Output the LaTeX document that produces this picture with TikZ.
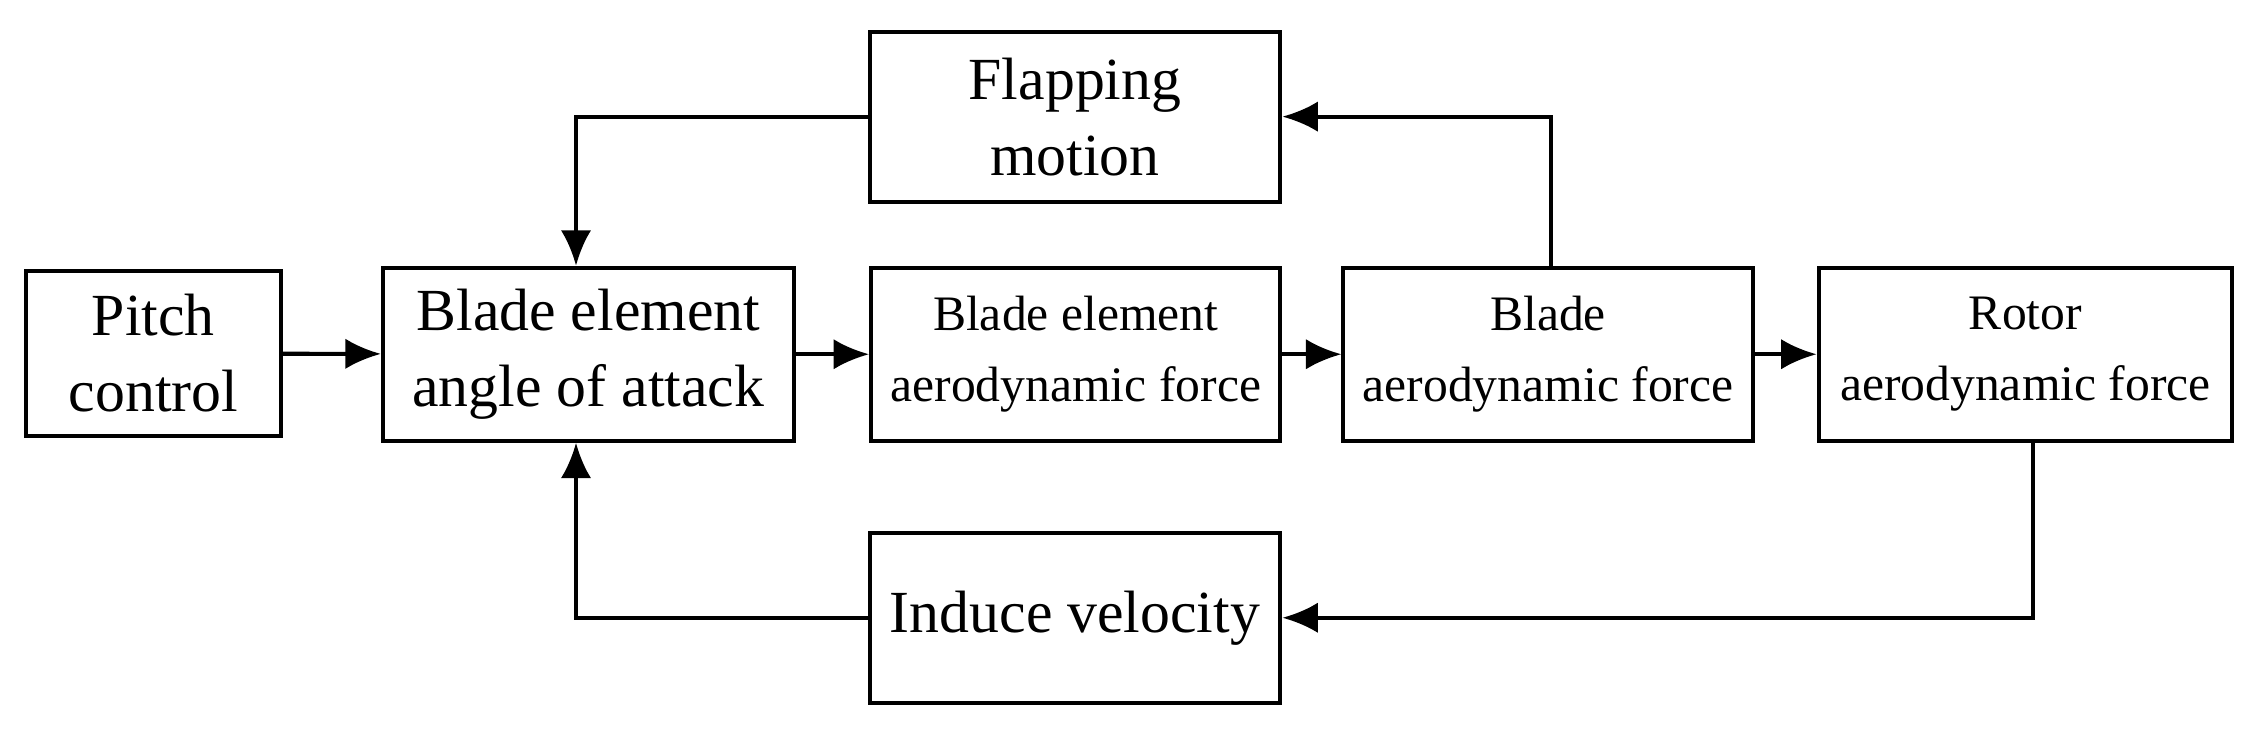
\documentclass[tikz,border=0pt]{standalone}
\usepackage{fontspec}
\setmainfont{Liberation Serif}
\usetikzlibrary{arrows.meta}
\begin{document}
\begin{tikzpicture}[x=0.01cm,y=-0.01cm,
  box/.style={draw,line width=0.8pt,inner sep=0pt,align=center},
  big/.style={font=\fontsize{11.8}{15}\selectfont},
  small/.style={font=\fontsize{9.8}{14}\selectfont},
  arr/.style={line width=0.8pt,-{Latex[length=7pt,width=6pt]}}]
\useasboundingbox (0,0) rectangle (1568,510);
\node[box,big,minimum width=1.77cm,minimum height=1.15cm] (pc) at (106.5,245.5) {Pitch\\control};
\node[box,big,minimum width=2.85cm,minimum height=1.2cm] (aoa) at (408.5,246) {Blade element\\angle of attack};
\node[box,small,minimum width=2.84cm,minimum height=1.2cm] (bea) at (747,246) {Blade element\\aerodynamic force};
\node[box,small,minimum width=2.84cm,minimum height=1.2cm] (ba) at (1075,246) {Blade\\aerodynamic force};
\node[box,small,minimum width=2.87cm,minimum height=1.2cm] (ra) at (1406.5,246) {Rotor\\aerodynamic force};
\node[box,big,minimum width=2.85cm,minimum height=1.18cm] (fm) at (746.5,81) {Flapping\\motion};
\node[box,big,minimum width=2.85cm,minimum height=1.18cm] (iv) at (746.5,429) {Induce velocity};
\draw[arr] (pc) -- (aoa);
\draw[arr] (aoa) -- (bea);
\draw[arr] (bea) -- (ba);
\draw[arr] (ba) -- (ra);
\draw[arr] (fm.west) -| (aoa.north -| 400,0);
\draw[arr] (ba.north -| 1077,0) |- (fm.east);
\draw[arr] (ra.south -| 1412,0) |- (iv.east);
\draw[arr] (iv.west) -| (aoa.south -| 400,0);
\end{tikzpicture}
\end{document}
